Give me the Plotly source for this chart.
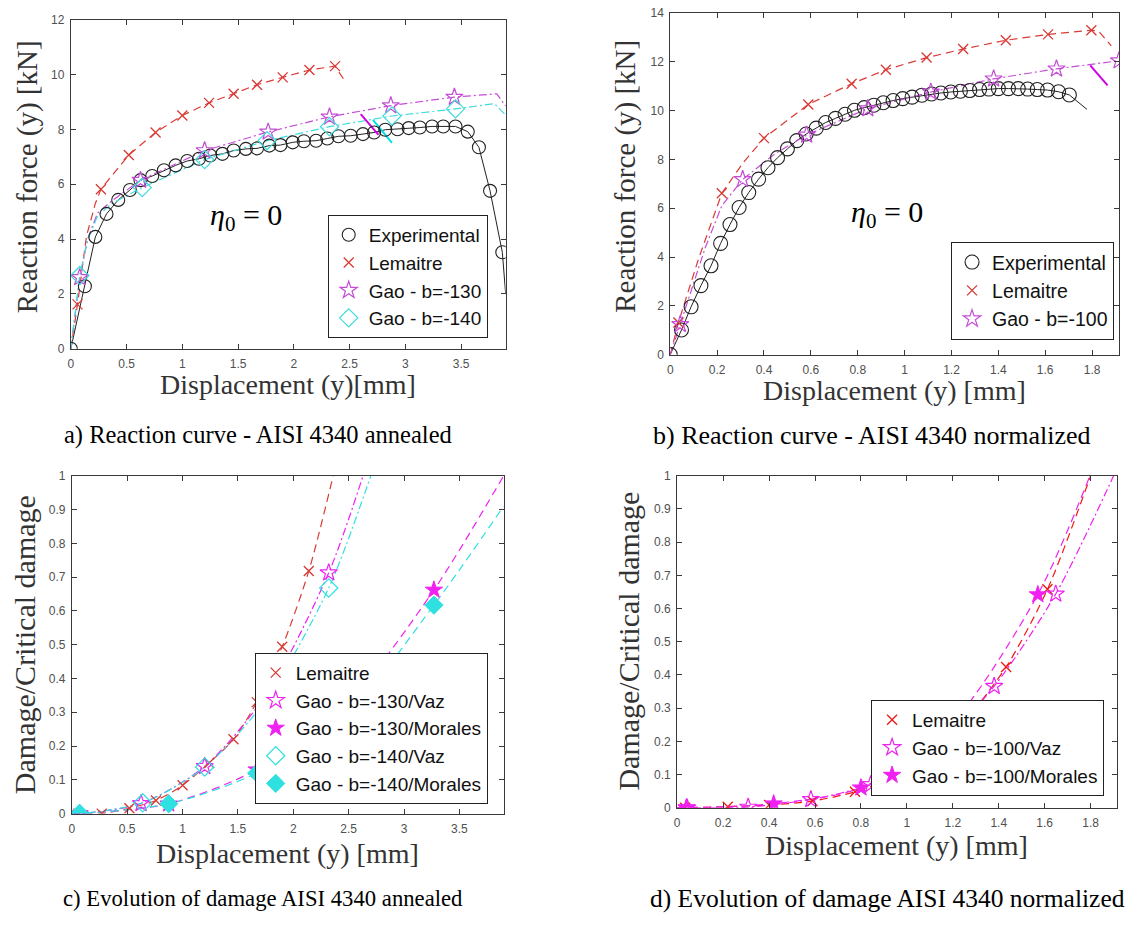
import plotly.graph_objects as go

W, H = 1134, 926

# ---------------- Panel a: reaction curve, annealed ----------------
exp_a_x = [0, 0.126, 0.22, 0.32, 0.425, 0.53, 0.625, 0.73, 0.835, 0.94, 1.044, 1.15, 1.25, 1.36,
           1.46, 1.57, 1.67, 1.78, 1.88, 1.99, 2.09, 2.2, 2.3, 2.4, 2.51, 2.62, 2.72, 2.82, 2.93,
           3.03, 3.13, 3.24, 3.34, 3.45, 3.56, 3.66, 3.76, 3.87]
exp_a_y = [0, 2.28, 4.08, 4.92, 5.43, 5.79, 6.15, 6.3, 6.51, 6.69, 6.85, 6.93, 7.05, 7.11,
           7.23, 7.29, 7.31, 7.41, 7.43, 7.53, 7.57, 7.59, 7.67, 7.75, 7.77, 7.83, 7.89, 7.99, 8.01,
           8.05, 8.07, 8.11, 8.11, 8.11, 7.92, 7.35, 5.76, 3.52]
exp_a_line_x = exp_a_x + [3.9]
exp_a_line_y = exp_a_y + [2.0]

lem_a_x = [0.06, 0.27, 0.52, 0.76, 1.0, 1.24, 1.46, 1.67, 1.90, 2.14, 2.37]
lem_a_y = [1.62, 5.82, 7.07, 7.89, 8.51, 8.97, 9.30, 9.63, 9.90, 10.17, 10.31]
lem_a_line_x = [0, 0.06, 0.14, 0.22, 0.27, 0.52, 0.76, 1.0, 1.24, 1.46, 1.67, 1.90, 2.14, 2.37, 2.46]
lem_a_line_y = [0, 1.62, 4.1, 5.3, 5.82, 7.07, 7.89, 8.51, 8.97, 9.30, 9.63, 9.90, 10.17, 10.31, 9.75]

g130_a_x = [0.08, 0.625, 1.2, 1.77, 2.32, 2.87, 3.44]
g130_a_y = [2.6, 6.15, 7.23, 7.91, 8.46, 8.87, 9.18]
g130_a_line_x = [0, 0.08, 0.15, 0.24, 0.37, 0.625, 1.2, 1.77, 2.32, 2.87, 3.44, 3.82, 3.9]
g130_a_line_y = [0, 2.6, 4.0, 4.95, 5.4, 6.15, 7.23, 7.91, 8.46, 8.87, 9.18, 9.30, 8.85]

g140_a_x = [0.08, 0.64, 1.2, 1.76, 2.32, 2.88, 3.45]
g140_a_y = [2.67, 5.88, 6.9, 7.59, 8.1, 8.49, 8.75]
g140_a_line_x = [0, 0.08, 0.15, 0.24, 0.37, 0.64, 1.2, 1.76, 2.32, 2.88, 3.45, 3.8, 3.9]
g140_a_line_y = [0, 2.67, 3.95, 4.85, 5.3, 5.88, 6.9, 7.59, 8.1, 8.49, 8.75, 8.94, 8.52]

cut_a_m_x, cut_a_m_y = [2.60, 2.76], [8.56, 7.80]
cut_a_c_x, cut_a_c_y = [2.71, 2.88], [8.35, 7.51]

# ---------------- Panel b: reaction curve, normalized ----------------
exp_b_x = [0, 0.048, 0.089, 0.131, 0.174, 0.215, 0.255, 0.294, 0.335, 0.377, 0.417, 0.458, 0.5,
           0.54, 0.58, 0.623, 0.663, 0.705, 0.746, 0.786, 0.828, 0.869, 0.909, 0.951, 0.992, 1.032,
           1.074, 1.115, 1.155, 1.197, 1.238, 1.278, 1.32, 1.36, 1.40, 1.443, 1.485, 1.525, 1.566,
           1.61, 1.657, 1.703]
exp_b_y = [0, 1.01, 1.96, 2.83, 3.64, 4.56, 5.33, 6.03, 6.64, 7.19, 7.66, 8.07, 8.43,
           8.77, 9.04, 9.28, 9.51, 9.68, 9.85, 10.01, 10.12, 10.22, 10.32, 10.41, 10.49, 10.55,
           10.63, 10.68, 10.72, 10.76, 10.79, 10.82, 10.86, 10.88, 10.9, 10.9, 10.9, 10.88, 10.86,
           10.84, 10.77, 10.64]
exp_b_line_x = exp_b_x + [1.778]
exp_b_line_y = exp_b_y + [10.05]

lem_b_x = [0.035, 0.22, 0.40, 0.589, 0.774, 0.92, 1.094, 1.25, 1.432, 1.612, 1.797]
lem_b_y = [1.32, 6.61, 8.87, 10.25, 11.1, 11.67, 12.17, 12.52, 12.88, 13.12, 13.29]
lem_b_line_x = [0, 0.035, 0.12, 0.22, 0.31, 0.40, 0.589, 0.774, 0.92, 1.094, 1.25, 1.432, 1.612, 1.797, 1.828, 1.882]
lem_b_line_y = [0, 1.32, 3.9, 6.61, 7.85, 8.87, 10.25, 11.1, 11.67, 12.17, 12.52, 12.88, 13.12, 13.29, 13.25, 12.65]

g100_b_x = [0.043, 0.309, 0.582, 0.843, 1.112, 1.38, 1.648, 1.915]
g100_b_y = [1.24, 7.18, 9.0, 10.08, 10.76, 11.3, 11.71, 12.04]
g100_b_line_x = [0, 0.043, 0.15, 0.22, 0.309, 0.45, 0.582, 0.843, 1.112, 1.38, 1.648, 1.915]
g100_b_line_y = [0, 1.24, 4.4, 6.1, 7.18, 8.25, 9.0, 10.08, 10.76, 11.3, 11.71, 12.04]

cut_b_m_x, cut_b_m_y = [1.792, 1.866], [11.85, 11.03]

# ---------------- Panel c: damage, annealed ----------------
lem_c_x = [0.06, 0.27, 0.52, 0.76, 1.0, 1.24, 1.46, 1.67, 1.90, 2.14]
lem_c_y = [0, 0, 0.016, 0.039, 0.084, 0.15, 0.22, 0.33, 0.494, 0.718]
lem_c_end = (2.36, 1.0)

g130v_c_x = [0.07, 0.625, 1.2, 1.77, 2.32]
g130v_c_y = [0, 0.03, 0.14, 0.36, 0.713]
g130v_c_end = (2.63, 1.0)

g130m_c_x = [0.07, 0.875, 1.67, 2.47, 3.27]
g130m_c_y = [0, 0.029, 0.13, 0.32, 0.662]
g130m_c_end = (3.9, 1.0)

g140v_c_x = [0.07, 0.64, 1.2, 1.76, 2.32]
g140v_c_y = [0, 0.032, 0.138, 0.34, 0.668]
g140v_c_end = (2.70, 1.0)

g140m_c_x = [0.07, 0.875, 1.67, 2.47, 3.27]
g140m_c_y = [0, 0.029, 0.12, 0.29, 0.617]
g140m_c_end = (3.9, 0.91)

# ---------------- Panel d: damage, normalized ----------------
lem_d_x = [0.035, 0.22, 0.40, 0.589, 0.774, 0.92, 1.094, 1.25, 1.432, 1.612]
lem_d_y = [0, 0.003, 0.008, 0.02, 0.048, 0.085, 0.16, 0.26, 0.424, 0.658]
lem_d_end = (1.8, 1.0)

g100v_d_x = [0.043, 0.309, 0.582, 0.843, 1.112, 1.38, 1.648]
g100v_d_y = [0, 0.002, 0.025, 0.07, 0.17, 0.366, 0.644]
g100v_d_end = (1.9, 1.0)

g100m_d_x = [0.04, 0.42, 0.80, 1.18, 1.57]
g100m_d_y = [0, 0.012, 0.06, 0.24, 0.642]
g100m_d_end = (1.797, 1.0)

# ---------------- styling ----------------
RED_A = "#d93a35"
MAG_A = "#c54cd6"
CYA_A = "#3fdcdc"
RED_D = "#f01818"
MAG_D = "#f020f0"
CYA_D = "#2fe0e0"
DASH = "8px,5px"
DASHDOT = "8px,3px,2px,3px"

SERIF = "Liberation Serif"
SANS = "Liberation Sans"

# panel boxes in pixels: left, right, top, bottom
boxes = {
    "a": (68, 504, 13, 347),
    "b": (669, 1119, 6, 353),
    "c": (69, 502, 476, 819),
    "d": (676, 1117, 476, 813),
}


def px_x(p):
    return p / W


def px_y(p):
    return 1 - p / H


fig = go.Figure()

axis_ids = {"a": ("x", "y"), "b": ("x2", "y2"), "c": ("x3", "y3"), "d": ("x4", "y4")}
legend_ids = {"a": "legend", "b": "legend2", "c": "legend3", "d": "legend4"}


def line(panel, x, y, color, dash, width=1.2, shape="linear"):
    xa, ya = axis_ids[panel]
    fig.add_trace(go.Scatter(x=x, y=y, mode="lines", xaxis=xa, yaxis=ya, showlegend=False,
                             hoverinfo="skip",
                             line=dict(color=color, width=width, dash=dash, shape=shape,
                                       smoothing=0.8)))


def marks(panel, x, y, name, symbol, color, size, lw=1.1, fill=None):
    xa, ya = axis_ids[panel]
    mk = dict(symbol=symbol, size=size, color=fill if fill else color,
              line=dict(color=color, width=lw))
    fig.add_trace(go.Scatter(x=x, y=y, mode="markers", xaxis=xa, yaxis=ya, name=name,
                             marker=mk, legend=legend_ids[panel]))


# Panel a
line("a", exp_a_line_x, exp_a_line_y, "#222222", "solid", 1.0)
line("a", lem_a_line_x, lem_a_line_y, RED_A, DASH)
line("a", g130_a_line_x, g130_a_line_y, MAG_A, DASHDOT)
line("a", g140_a_line_x, g140_a_line_y, CYA_A, DASHDOT)
line("a", cut_a_m_x, cut_a_m_y, "#d000e0", "solid", 2)
line("a", cut_a_c_x, cut_a_c_y, "#00e0e8", "solid", 2)
marks("a", exp_a_x, exp_a_y, "Experimental", "circle-open", "#222222", 13)
marks("a", lem_a_x, lem_a_y, "Lemaitre", "x-thin-open", RED_A, 10, 1.3)
marks("a", g130_a_x, g130_a_y, "Gao - b=-130", "star-open", MAG_A, 13, 1.2)
marks("a", g140_a_x, g140_a_y, "Gao - b=-140", "diamond-open", CYA_A, 14, 1.2)

# Panel b
line("b", exp_b_line_x, exp_b_line_y, "#222222", "solid", 1.0)
line("b", lem_b_line_x, lem_b_line_y, RED_A, DASH)
line("b", g100_b_line_x, g100_b_line_y, MAG_A, DASHDOT)
line("b", cut_b_m_x, cut_b_m_y, "#d000e0", "solid", 2)
marks("b", exp_b_x, exp_b_y, "Experimental", "circle-open", "#222222", 14)
marks("b", lem_b_x, lem_b_y, "Lemaitre", "x-thin-open", RED_A, 10, 1.3)
marks("b", g100_b_x, g100_b_y, "Gao - b=-100", "star-open", MAG_A, 13, 1.2)

# Panel c
line("c", [0] + lem_c_x + [lem_c_end[0]], [0] + lem_c_y + [lem_c_end[1]], RED_A, DASH, shape="spline")
line("c", [0] + g130v_c_x + [g130v_c_end[0]], [0] + g130v_c_y + [g130v_c_end[1]], MAG_D, DASHDOT, shape="spline")
line("c", [0] + g130m_c_x + [g130m_c_end[0]], [0] + g130m_c_y + [g130m_c_end[1]], MAG_D, DASH, shape="spline")
line("c", [0] + g140v_c_x + [g140v_c_end[0]], [0] + g140v_c_y + [g140v_c_end[1]], CYA_D, DASHDOT, shape="spline")
line("c", [0] + g140m_c_x + [g140m_c_end[0]], [0] + g140m_c_y + [g140m_c_end[1]], CYA_D, DASH, shape="spline")
marks("c", lem_c_x, lem_c_y, "Lemaitre", "x-thin-open", RED_A, 10, 1.3)
marks("c", g130v_c_x, g130v_c_y, "Gao - b=-130/Vaz", "star-open", MAG_D, 13, 1.2)
marks("c", g130m_c_x, g130m_c_y, "Gao - b=-130/Morales", "star", MAG_D, 13, 1.0, fill=MAG_D)
marks("c", g140v_c_x, g140v_c_y, "Gao - b=-140/Vaz", "diamond-open", CYA_D, 14, 1.2)
marks("c", g140m_c_x, g140m_c_y, "Gao - b=-140/Morales", "diamond", CYA_D, 14, 1.0, fill=CYA_D)

# Panel d
line("d", [0] + lem_d_x + [lem_d_end[0]], [0] + lem_d_y + [lem_d_end[1]], RED_D, DASH, shape="spline")
line("d", [0] + g100v_d_x + [g100v_d_end[0]], [0] + g100v_d_y + [g100v_d_end[1]], MAG_D, DASHDOT, shape="spline")
line("d", [0] + g100m_d_x + [g100m_d_end[0]], [0] + g100m_d_y + [g100m_d_end[1]], MAG_D, DASH, shape="spline")
marks("d", lem_d_x, lem_d_y, "Lemaitre", "x-thin-open", RED_D, 10, 1.3)
marks("d", g100v_d_x, g100v_d_y, "Gao - b=-100/Vaz", "star-open", MAG_D, 13, 1.2)
marks("d", g100m_d_x, g100m_d_y, "Gao - b=-100/Morales", "star", MAG_D, 13, 1.0, fill=MAG_D)

# ---------------- axes ----------------
ranges = {
    "a": ([0, 3.9], [0, 12], 0.5, 2),
    "b": ([0, 1.915], [0, 14], 0.2, 2),
    "c": ([0, 3.9], [0, 1], 0.5, 0.1),
    "d": ([0, 1.915], [0, 1], 0.2, 0.1),
}

common = dict(showline=True, linecolor="#3a3a3a", linewidth=1, mirror="ticks", ticks="inside",
              ticklen=5, tickcolor="#3a3a3a", showgrid=False, zeroline=False,
              tickfont=dict(family=SANS, size=12, color="#505050"), tick0=0)

layout_axes = {}
for i, p in enumerate(["a", "b", "c", "d"]):
    l, r, t, b = boxes[p]
    xr, yr, dx, dy = ranges[p]
    suffix = "" if i == 0 else str(i + 1)
    layout_axes["xaxis" + suffix] = dict(common, domain=[px_x(l), px_x(r)], range=xr, dtick=dx,
                                         anchor="y" + suffix, ticklabelstandoff=4)
    layout_axes["yaxis" + suffix] = dict(common, domain=[px_y(b), px_y(t)], range=yr, dtick=dy,
                                         anchor="x" + suffix, ticklabelstandoff=3)

# legends (right / bottom corners in px) and font sizes
legend_pos = {"a": (486, 336, 19), "b": (1114, 338, 19.5), "c": (486, 809, 19), "d": (1104, 801, 19)}
legend_layout = {}
for p, (lx, ly, fs) in legend_pos.items():
    legend_layout[legend_ids[p]] = dict(x=px_x(lx), y=px_y(ly), xanchor="right", yanchor="bottom",
                                        bgcolor="white", bordercolor="#222222", borderwidth=1,
                                        font=dict(family=SANS, size=fs, color="#111111"),
                                        tracegroupgap=0)

# ---------------- text annotations ----------------
annos = []


def txt(x, y, s, size, family=SERIF, angle=0, color="#333333"):
    annos.append(dict(x=px_x(x), y=px_y(y), xref="paper", yref="paper", text=s, showarrow=False,
                      xanchor="center", yanchor="middle", textangle=angle,
                      font=dict(family=family, size=size, color=color)))


txt(24, 172, "Reaction force (y) [kN]", 29, angle=-90)
txt(624, 172, "Reaction force (y) [kN]", 29, angle=-90)
txt(21, 647, "Damage/Critical damage", 30, angle=-90)
txt(627, 644, "Damage/Critical damage", 30, angle=-90)
txt(286, 383, "Displacement (y)[mm]", 28)
txt(894, 389, "Displacement (y) [mm]", 28)
txt(285, 859, "Displacement (y) [mm]", 28)
txt(896, 851, "Displacement (y) [mm]", 28)
txt(244, 213, "<i>η</i><sub>0</sub> = 0", 30, color="#000000")
txt(886, 210, "<i>η</i><sub>0</sub> = 0", 30, color="#000000")
txt(256, 435, "a) Reaction curve - AISI 4340 annealed", 24.5, color="#000000")
txt(871, 435, "b) Reaction curve - AISI 4340 normalized", 26, color="#000000")
txt(261, 905, "c) Evolution of damage AISI 4340 annealed", 22.7, color="#000000")
txt(887, 905, "d) Evolution of damage AISI 4340 normalized", 25.5, color="#000000")

fig.update_layout(width=W, height=H, margin=dict(l=0, r=0, t=0, b=0), paper_bgcolor="white",
                  plot_bgcolor="white", annotations=annos, **layout_axes, **legend_layout)

fig.write_html("out.html", config={"displayModeBar": False},
               post_script="document.body.style.margin='0px';document.body.style.overflow='hidden';")
